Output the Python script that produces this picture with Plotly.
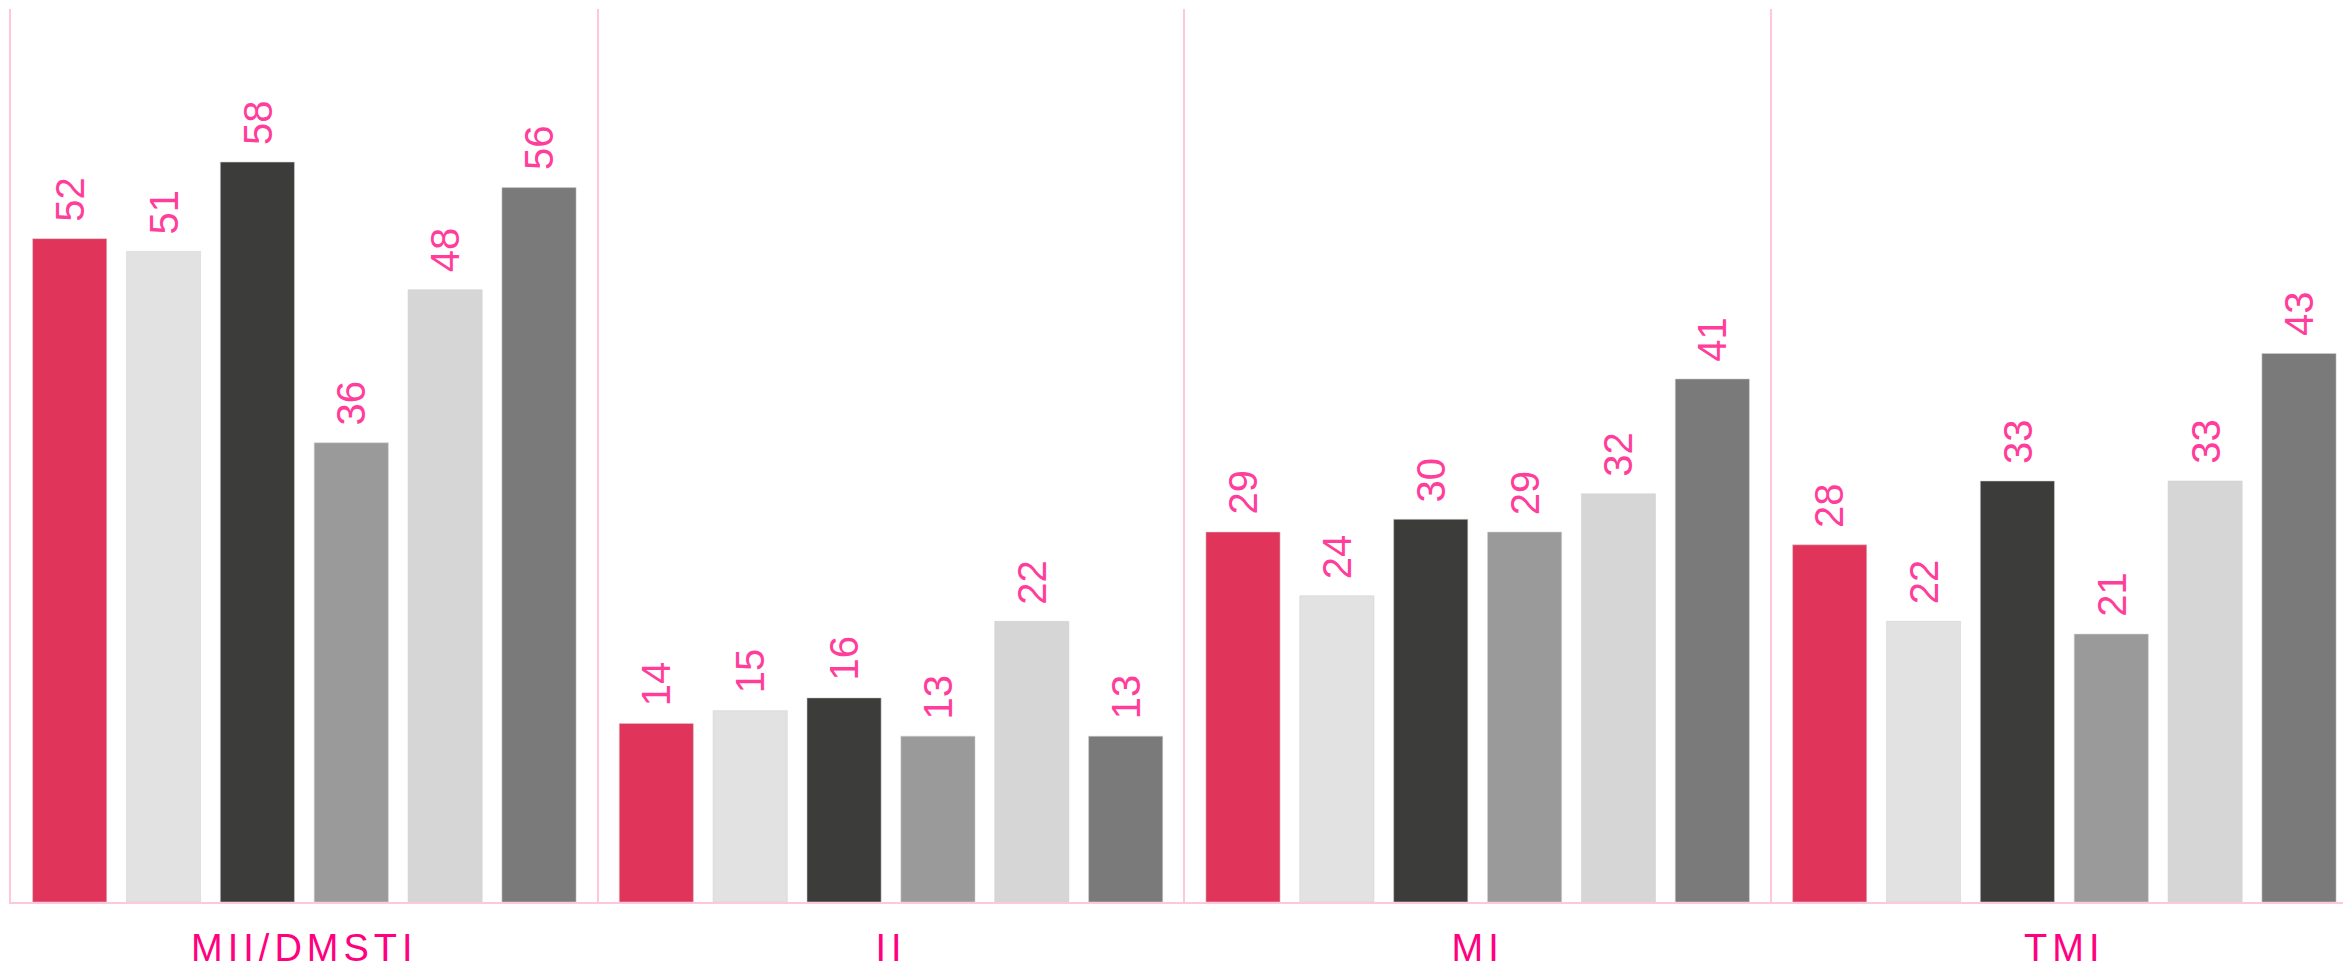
import plotly.graph_objects as go

# Categories along the x axis
categories = ["MII/DMSTI", "II", "MI", "TMI"]

# Six series, one bar per category each
series_a = [52, 14, 29, 28]
series_b = [51, 15, 24, 22]
series_c = [58, 16, 30, 33]
series_d = [36, 13, 29, 21]
series_e = [48, 22, 32, 33]
series_f = [56, 13, 41, 43]

all_series = [series_a, series_b, series_c, series_d, series_e, series_f]
colors = ["#E1345A", "#E2E2E2", "#3C3C3A", "#9A9A9A", "#D6D6D6", "#7A7A7A"]

BARGAP = 0.04
BARGROUPGAP = 0.21
n_series = len(all_series)
slot = (1 - BARGAP) / n_series

fig = go.Figure()
annotations = []
for i, (vals, col) in enumerate(zip(all_series, colors)):
    fig.add_trace(go.Bar(
        x=categories,
        y=vals,
        marker=dict(color=col, line=dict(color="rgba(210,210,210,0.55)", width=1)),
        hoverinfo="x+y",
        showlegend=False,
    ))
    # value labels above each bar, reading upwards
    for g, v in enumerate(vals):
        xc = g - (1 - BARGAP) / 2 + slot * (i + 0.5)
        annotations.append(dict(
            x=xc, y=v, xref="x", yref="y",
            text=str(v), showarrow=False,
            textangle=-90, xanchor="center", yanchor="bottom",
            yshift=15,
            font=dict(family="Liberation Sans, Arial, sans-serif", size=40, color="#FF3D9A"),
        ))

pink_line = "#FFC6DC"

fig.update_layout(
    width=2343,
    height=972,
    margin=dict(l=11, r=0, t=9, b=70, pad=0),
    paper_bgcolor="white",
    plot_bgcolor="white",
    barmode="group",
    bargap=BARGAP,
    bargroupgap=BARGROUPGAP,
    annotations=annotations,
    xaxis=dict(
        type="category",
        range=[-0.5, 3.475],
        automargin=False,
        showgrid=True,
        gridcolor=pink_line,
        gridwidth=2,
        tickson="boundaries",
        ticks="",
        showline=True,
        linecolor=pink_line,
        linewidth=2,
        ticklabelstandoff=11,
        tickfont=dict(family="Liberation Sans, Arial, sans-serif", size=38, color="#FF007F"),
        fixedrange=True,
    ),
    yaxis=dict(
        range=[0, 70],
        automargin=False,
        showgrid=False,
        zeroline=False,
        showticklabels=False,
        ticks="",
        showline=True,
        linecolor=pink_line,
        linewidth=2,
        fixedrange=True,
    ),
)

# category labels are set with wide letter spacing
spacing_js = """
document.querySelectorAll('.xtick text').forEach(function (t) {
    t.style.letterSpacing = '5px';
});
"""

fig.write_html("out.html", config={"displayModeBar": False}, post_script=spacing_js)
